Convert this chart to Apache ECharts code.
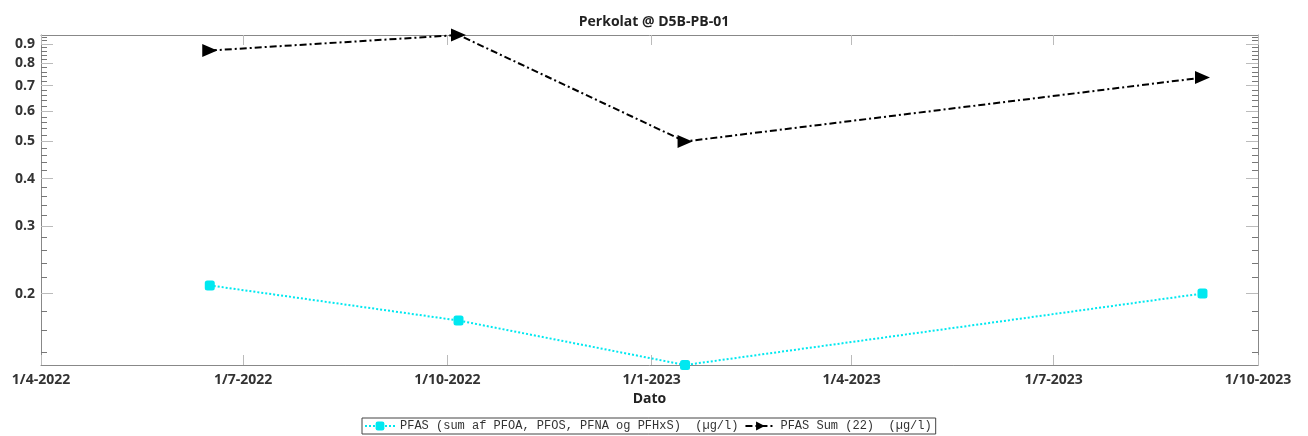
<!DOCTYPE html>
<html>
<head>
<meta charset="utf-8">
<script src="https://cdn.jsdelivr.net/npm/echarts@6/dist/echarts.min.js"></script>
<style>html,body{margin:0;padding:0;background:#fff}#c{width:1308px;height:436px}</style>
</head>
<body>
<div id="c"></div>
<script>
const dates = ['2022-06-16', '2022-10-06', '2023-01-16', '2023-09-06'];
const pfasSum4 = [0.21, 0.17, 0.13, 0.20];
const pfasSum22 = [0.865, 0.95, 0.50, 0.735];
const xTicks = ['2022-04-01', '2022-07-01', '2022-10-01', '2023-01-01', '2023-04-01', '2023-07-01', '2023-10-01'];
const yTicks = [0.2, 0.3, 0.4, 0.5, 0.6, 0.7, 0.8, 0.9];
const yMinorTicks = [0.14, 0.16, 0.18, 0.22, 0.24, 0.26, 0.28, 0.32, 0.34, 0.36, 0.38, 0.42, 0.44, 0.46, 0.48,
  0.52, 0.54, 0.56, 0.58, 0.62, 0.64, 0.66, 0.68, 0.72, 0.74, 0.76, 0.78, 0.82, 0.84, 0.86, 0.88, 0.92, 0.94];
const seriesNames = ['PFAS (sum af PFOA, PFOS, PFNA og PFHxS)  (\u00b5g/l)', 'PFAS Sum (22)  (\u00b5g/l)'];
const yMin = 0.13, yMax = 0.95;

const xTickTs = xTicks.map(d => new Date(d + 'T00:00:00').getTime());
const toTs = d => new Date(d + 'T00:00:00').getTime();
const labelFont = { fontFamily: 'Open Sans', fontWeight: 'bold', fontSize: 14, color: '#333' };
const DAY = 86400000;

function fmtDate(v) {
  const d = new Date(v);
  return d.getDate() + '/' + (d.getMonth() + 1) + '-' + d.getFullYear();
}

const chart = echarts.init(document.getElementById('c'), null, { renderer: 'canvas' });
const xCommon = { type: 'time', min: xTickTs[0], max: xTickTs[xTickTs.length - 1], splitNumber: 6,
  minInterval: 89 * DAY, maxInterval: 93 * DAY, splitLine: { show: false } };
const yCommon = { type: 'log', logBase: 10, min: yMin, max: yMax, splitLine: { show: false }, minorSplitLine: { show: false } };

chart.setOption({
  animation: false,
  title: {
    text: 'Perkolat @ D5B-PB-01', left: 'center', top: 10,
    textStyle: { fontFamily: 'Open Sans', fontWeight: 'bold', fontSize: 14, color: '#222' }
  },
  grid: { left: 41, right: 50, top: 35, bottom: 71, containLabel: false },
  legend: {
    bottom: 2, left: 362,
    data: seriesNames,
    itemWidth: 30, itemHeight: 11, itemGap: 6,
    padding: [2, 4, 2, 2],
    borderColor: '#444', borderWidth: 1,
    textStyle: { fontFamily: 'Liberation Mono', fontSize: 12, color: '#333' }
  },
  xAxis: [
    Object.assign({}, xCommon, {
      position: 'bottom',
      name: 'Dato', nameLocation: 'middle', nameGap: 24,
      nameTextStyle: { fontFamily: 'Open Sans', fontWeight: 'bold', fontSize: 14, color: '#222' },
      axisLine: { show: true, lineStyle: { color: '#888', width: 1 } },
      axisTick: { show: true, inside: true, length: 10, lineStyle: { color: '#bbb' } },
      axisLabel: Object.assign({ show: true, formatter: fmtDate, margin: 8, hideOverlap: false, showMinLabel: true, showMaxLabel: true }, labelFont)
    }),
    Object.assign({}, xCommon, {
      position: 'top',
      axisLine: { show: true, lineStyle: { color: '#888', width: 1 } },
      axisTick: { show: true, inside: true, length: 10, lineStyle: { color: '#bbb' } },
      axisLabel: { show: false }
    })
  ],
  yAxis: [
    Object.assign({}, yCommon, {
      position: 'left',
      axisLine: { show: true, lineStyle: { color: '#888', width: 1 } },
      axisTick: { show: true, inside: true, length: 12, customValues: yTicks, lineStyle: { color: '#bbb' } },
      axisLabel: Object.assign({ show: true, customValues: yTicks, formatter: v => String(+(+v).toFixed(2)), margin: 6 }, labelFont)
    }),
    Object.assign({}, yCommon, {
      position: 'right',
      axisLine: { show: true, lineStyle: { color: '#888', width: 1 } },
      axisTick: { show: true, inside: true, length: 12, customValues: yTicks, lineStyle: { color: '#bbb' } },
      axisLabel: { show: false }
    }),
    Object.assign({}, yCommon, {
      position: 'left',
      axisLine: { show: false },
      axisTick: { show: true, inside: true, length: 6, customValues: yMinorTicks, lineStyle: { color: '#777' } },
      axisLabel: { show: false }
    }),
    Object.assign({}, yCommon, {
      position: 'right',
      axisLine: { show: false },
      axisTick: { show: true, inside: true, length: 6, customValues: yMinorTicks, lineStyle: { color: '#777' } },
      axisLabel: { show: false }
    })
  ],
  series: [
    {
      name: seriesNames[0], type: 'line', xAxisIndex: 0, yAxisIndex: 0,
      data: dates.map((d, i) => [toTs(d), pfasSum4[i]]),
      symbol: 'roundRect', symbolSize: 10, clip: false,
      itemStyle: { color: '#00e8f0' },
      lineStyle: { color: '#00e8f0', width: 2, type: [2, 2] }
    },
    {
      name: seriesNames[1], type: 'line', xAxisIndex: 0, yAxisIndex: 0,
      data: dates.map((d, i) => [toTs(d), pfasSum22[i]]),
      symbol: 'triangle', symbolRotate: -90, symbolSize: [13, 15], clip: false,
      itemStyle: { color: '#000' },
      lineStyle: { color: '#000', width: 2, type: [7, 3, 2, 3] }
    }
  ]
});
</script>
</body>
</html>
